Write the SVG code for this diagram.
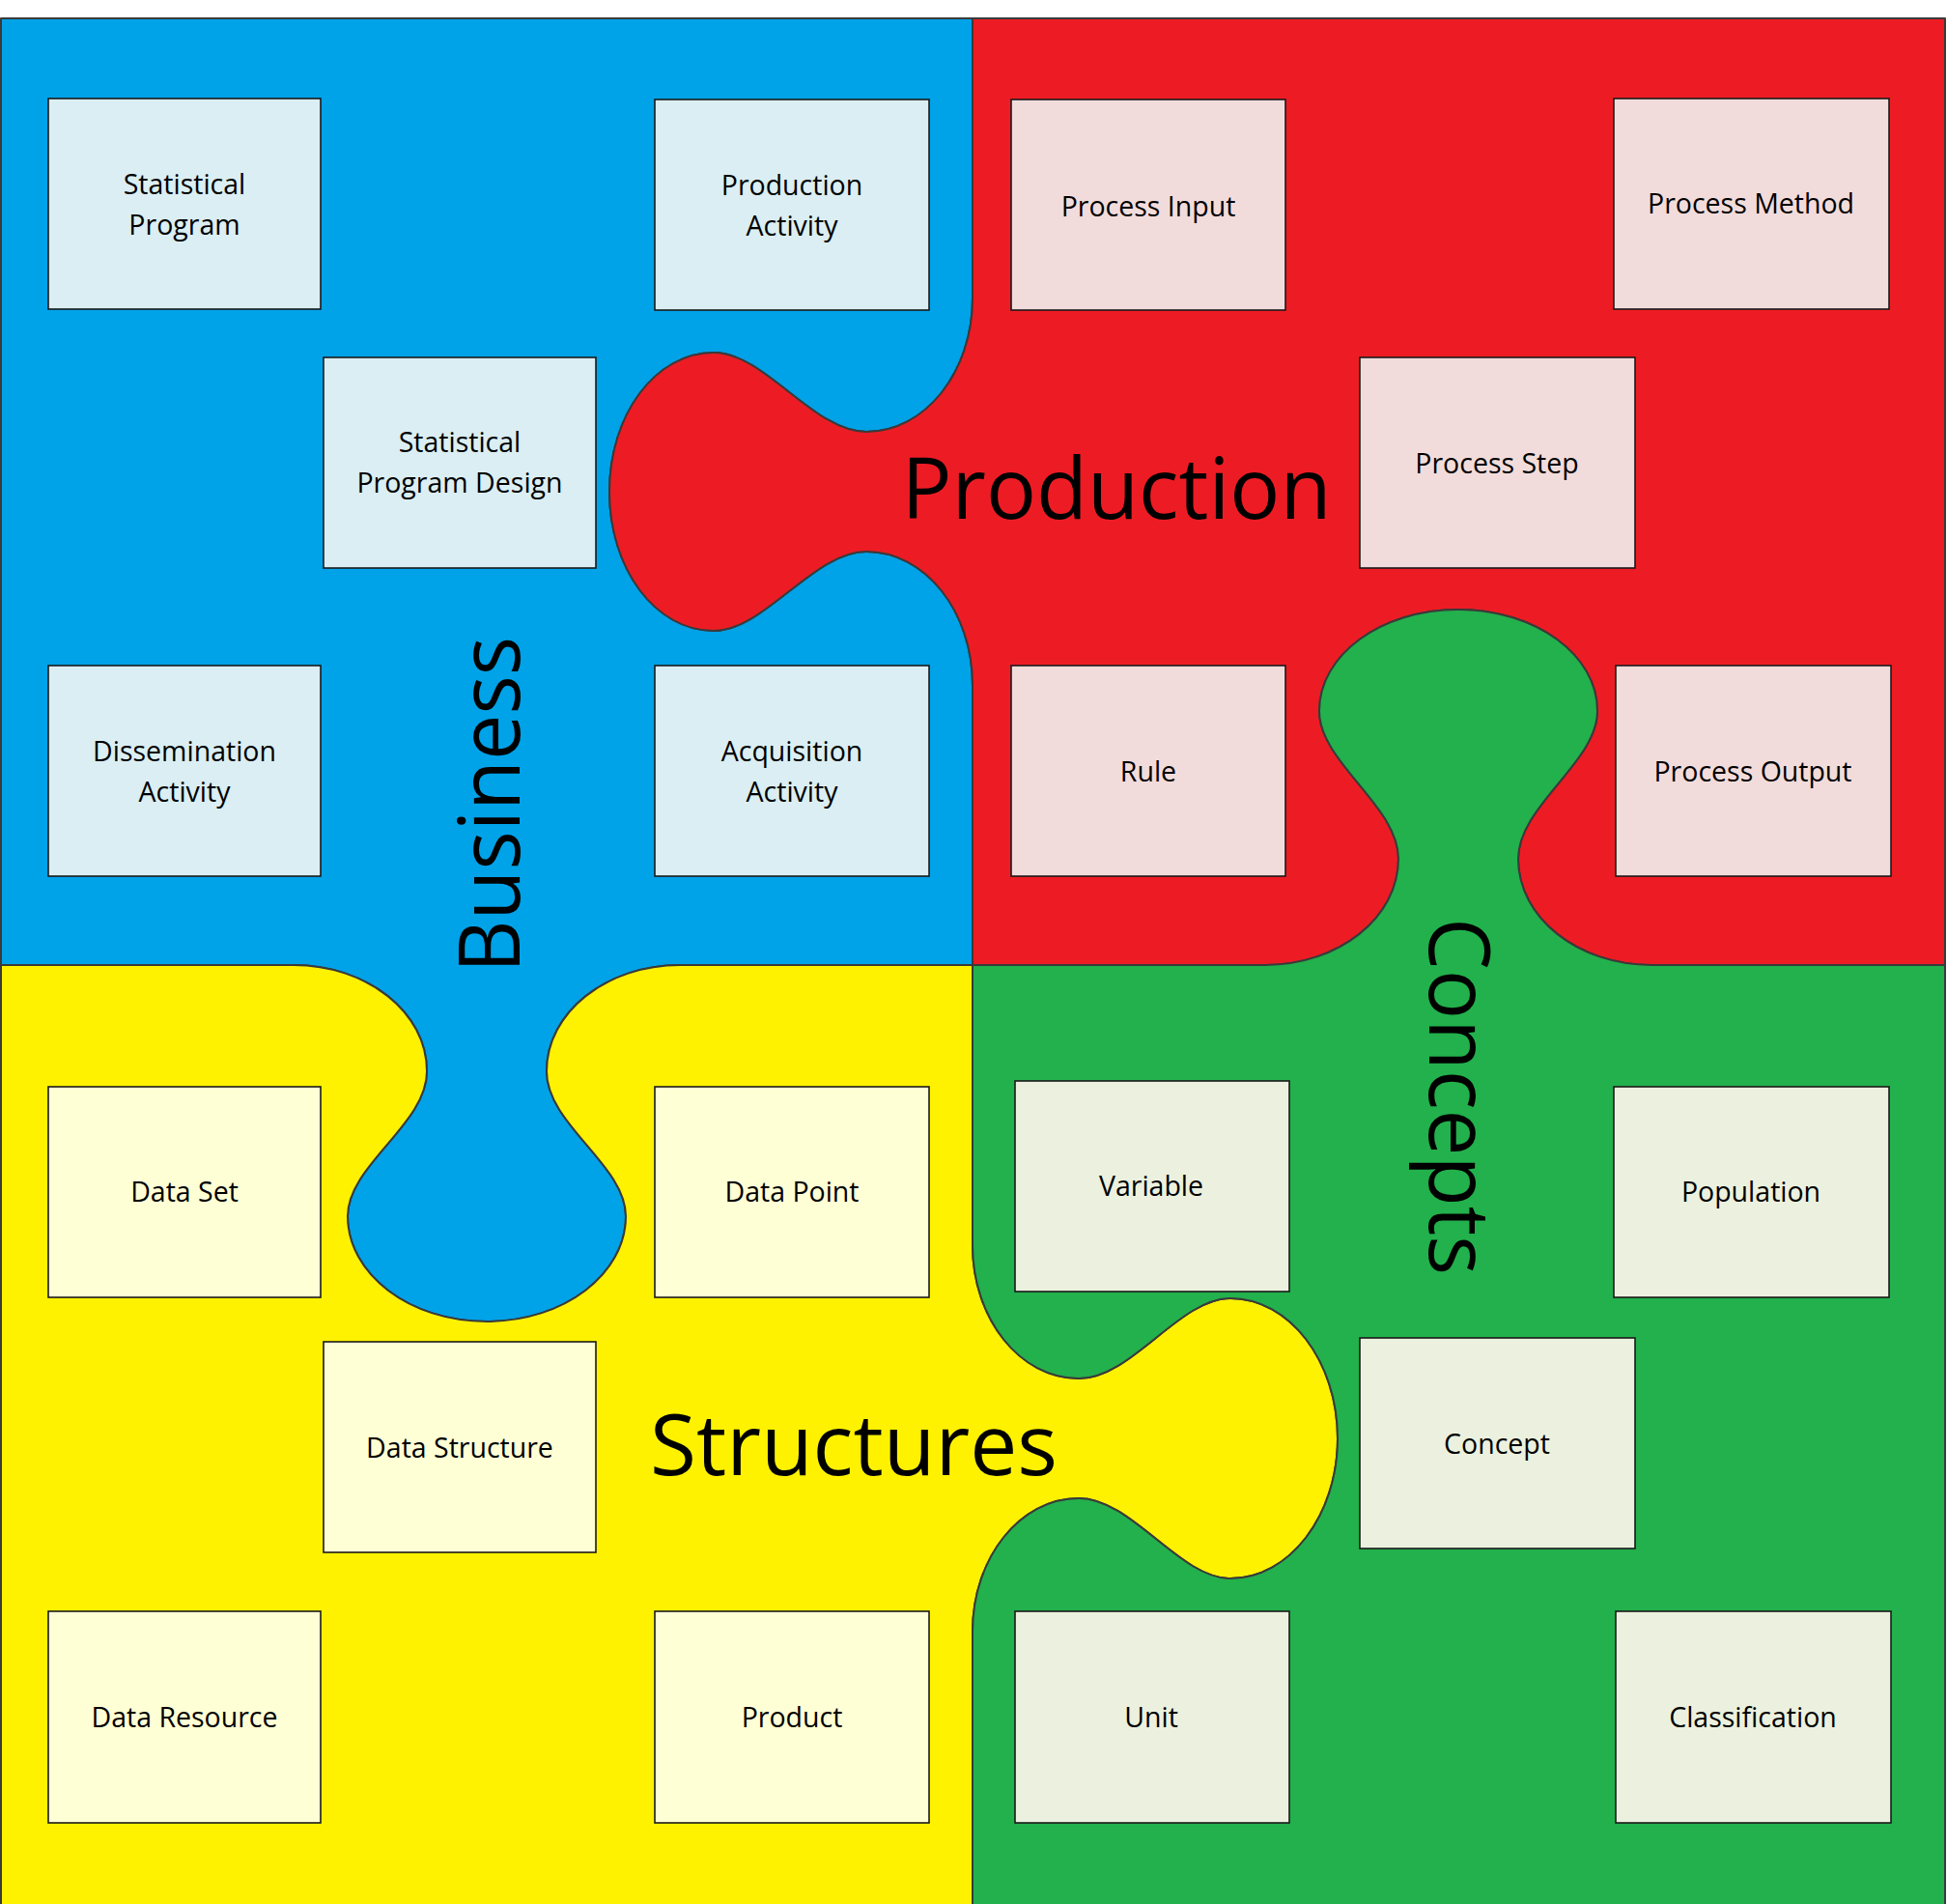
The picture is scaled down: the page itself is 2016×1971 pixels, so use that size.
<svg xmlns="http://www.w3.org/2000/svg" width="2016" height="1971" viewBox="0 0 2016 1971">
  <style>
    .piece { stroke: #3a3a3a; stroke-width: 2; stroke-linejoin: round; }
    .blue { fill: #00A2E8; }
    .red { fill: #ED1C24; }
    .yellow { fill: #FFF200; }
    .green { fill: #22B14C; }
    .box { stroke: #1a1a1a; stroke-width: 1.6; }
    .bb { fill: #DAEEF3; }
    .rb { fill: #F2DCDB; }
    .yb { fill: #FFFFD5; }
    .gb { fill: #EBF1DE; }
    .lbl { font-family: "Open Sans", "Noto Sans", "Liberation Sans", sans-serif; font-size: 28.5px; fill: #000; text-anchor: middle; }
    .big { font-family: "Open Sans", "Noto Sans", "Liberation Sans", sans-serif; font-size: 87px; fill: #000; text-anchor: middle; }
  </style>
  <rect x="0" y="0" width="2016" height="1971" fill="#ffffff"/>
  <g id="pieces">
    <path id="piece-business" class="piece blue" d="M1,19 H1007 V309 C1007,385 958,447 897,447 C842,447 792,365 739,365 C679,365 631,429 631,509 C631,589 679,653 739,653 C792,653 842,571 897,571 C958,571 1007,633 1007,709 V999 H704 C628,999 566,1048 566,1109 C566,1164 648,1206 648,1259 C648,1319 584,1368 504,1368 C424,1368 360,1319 360,1259 C360,1206 442,1164 442,1109 C442,1048 380,999 304,999 H1 Z"/>
    <path id="piece-production" class="piece red" d="M1007,19 H2014 V999 H1710 C1634,999 1572,950 1572,889 C1572,834 1654,789 1654,736 C1654,678 1590,631 1510,631 C1430,631 1366,678 1366,736 C1366,789 1448,834 1448,889 C1448,950 1386,999 1310,999 H1007 V709 C1007,633 958,571 897,571 C842,571 792,653 739,653 C679,653 631,589 631,509 C631,429 679,365 739,365 C792,365 842,447 897,447 C958,447 1007,385 1007,309 Z"/>
    <path id="piece-structures" class="piece yellow" d="M1,999 H304 C380,999 442,1048 442,1109 C442,1164 360,1206 360,1259 C360,1319 424,1368 504,1368 C584,1368 648,1319 648,1259 C648,1206 566,1164 566,1109 C566,1048 628,999 704,999 H1007 V1289 C1007,1365 1056,1427 1117,1427 C1172,1427 1221,1344 1274,1344 C1335,1344 1385,1409 1385,1489 C1385,1569 1335,1634 1274,1634 C1221,1634 1172,1551 1117,1551 C1056,1551 1007,1613 1007,1689 V1975 H1 Z"/>
    <path id="piece-concepts" class="piece green" d="M1007,999 H1310 C1386,999 1448,950 1448,889 C1448,834 1366,789 1366,736 C1366,678 1430,631 1510,631 C1590,631 1654,678 1654,736 C1654,789 1572,834 1572,889 C1572,950 1634,999 1710,999 H2014 V1975 H1007 V1689 C1007,1613 1056,1551 1117,1551 C1172,1551 1221,1634 1274,1634 C1335,1634 1385,1569 1385,1489 C1385,1409 1335,1344 1274,1344 C1221,1344 1172,1427 1117,1427 C1056,1427 1007,1365 1007,1289 Z"/>
  </g>
  <g id="titles">
    <text id="title-production" class="big" x="1156" y="537" textLength="445" lengthAdjust="spacingAndGlyphs">Production</text>
    <text id="title-structures" class="big" x="884" y="1527" textLength="422" lengthAdjust="spacingAndGlyphs">Structures</text>
    <text id="title-business" class="big" transform="translate(538,833) rotate(-90)" x="0" y="0" textLength="348" lengthAdjust="spacingAndGlyphs">Business</text>
    <text id="title-concepts" class="big" transform="translate(1480,1135) rotate(90)" x="0" y="0" textLength="370" lengthAdjust="spacingAndGlyphs">Concepts</text>
  </g>
  <g id="connectors"></g>
  <g id="node-statistical-program"><rect class="box bb" x="50" y="102" width="282" height="218"/><text class="lbl" x="191" y="201">Statistical</text><text class="lbl" x="191" y="243">Program</text></g>
  <g id="node-production-activity"><rect class="box bb" x="678" y="103" width="284" height="218"/><text class="lbl" x="820" y="202">Production</text><text class="lbl" x="820" y="244">Activity</text></g>
  <g id="node-statistical-program-design"><rect class="box bb" x="335" y="370" width="282" height="218"/><text class="lbl" x="476" y="468">Statistical</text><text class="lbl" x="476" y="510">Program Design</text></g>
  <g id="node-dissemination-activity"><rect class="box bb" x="50" y="689" width="282" height="218"/><text class="lbl" x="191" y="788">Dissemination</text><text class="lbl" x="191" y="830">Activity</text></g>
  <g id="node-acquisition-activity"><rect class="box bb" x="678" y="689" width="284" height="218"/><text class="lbl" x="820" y="788">Acquisition</text><text class="lbl" x="820" y="830">Activity</text></g>

  <g id="node-process-input"><rect class="box rb" x="1047" y="103" width="284" height="218"/><text class="lbl" x="1189" y="224">Process Input</text></g>
  <g id="node-process-method"><rect class="box rb" x="1671" y="102" width="285" height="218"/><text class="lbl" x="1813" y="221">Process Method</text></g>
  <g id="node-process-step"><rect class="box rb" x="1408" y="370" width="285" height="218"/><text class="lbl" x="1550" y="490">Process Step</text></g>
  <g id="node-rule"><rect class="box rb" x="1047" y="689" width="284" height="218"/><text class="lbl" x="1189" y="809">Rule</text></g>
  <g id="node-process-output"><rect class="box rb" x="1673" y="689" width="285" height="218"/><text class="lbl" x="1815" y="809">Process Output</text></g>

  <g id="node-data-set"><rect class="box yb" x="50" y="1125" width="282" height="218"/><text class="lbl" x="191" y="1244">Data Set</text></g>
  <g id="node-data-point"><rect class="box yb" x="678" y="1125" width="284" height="218"/><text class="lbl" x="820" y="1244">Data Point</text></g>
  <g id="node-data-structure"><rect class="box yb" x="335" y="1389" width="282" height="218"/><text class="lbl" x="476" y="1509">Data Structure</text></g>
  <g id="node-data-resource"><rect class="box yb" x="50" y="1668" width="282" height="219"/><text class="lbl" x="191" y="1788">Data Resource</text></g>
  <g id="node-product"><rect class="box yb" x="678" y="1668" width="284" height="219"/><text class="lbl" x="820" y="1788">Product</text></g>

  <g id="node-variable"><rect class="box gb" x="1051" y="1119" width="284" height="218"/><text class="lbl" x="1192" y="1238">Variable</text></g>
  <g id="node-population"><rect class="box gb" x="1671" y="1125" width="285" height="218"/><text class="lbl" x="1813" y="1244">Population</text></g>
  <g id="node-concept"><rect class="box gb" x="1408" y="1385" width="285" height="218"/><text class="lbl" x="1550" y="1505">Concept</text></g>
  <g id="node-unit"><rect class="box gb" x="1051" y="1668" width="284" height="219"/><text class="lbl" x="1192" y="1788">Unit</text></g>
  <g id="node-classification"><rect class="box gb" x="1673" y="1668" width="285" height="219"/><text class="lbl" x="1815" y="1788">Classification</text></g>
</svg>
